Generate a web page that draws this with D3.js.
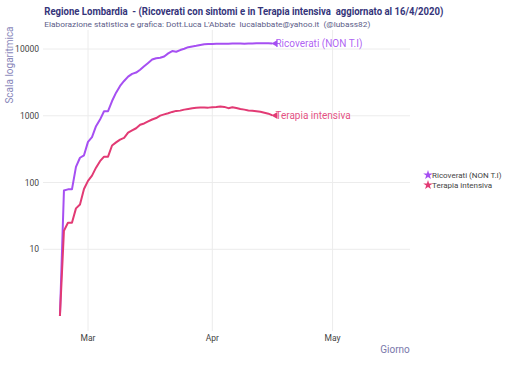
<!DOCTYPE html>
<html><head><meta charset="utf-8">
<script src="https://cdn.jsdelivr.net/npm/d3@7"></script>
<style>body{margin:0;background:#fff}svg{display:block;font-family:Roboto,"Open Sans",sans-serif}text{white-space:pre}</style>
</head><body><svg id="c" width="510" height="368"></svg>
<script>
const dates = ["2020-02-23","2020-02-24","2020-02-25","2020-02-26","2020-02-27","2020-02-28","2020-02-29",
"2020-03-01","2020-03-02","2020-03-03","2020-03-04","2020-03-05","2020-03-06","2020-03-07","2020-03-08","2020-03-09","2020-03-10",
"2020-03-11","2020-03-12","2020-03-13","2020-03-14","2020-03-15","2020-03-16","2020-03-17","2020-03-18","2020-03-19","2020-03-20",
"2020-03-21","2020-03-22","2020-03-23","2020-03-24","2020-03-25","2020-03-26","2020-03-27","2020-03-28","2020-03-29","2020-03-30","2020-03-31",
"2020-04-01","2020-04-02","2020-04-03","2020-04-04","2020-04-05","2020-04-06","2020-04-07","2020-04-08","2020-04-09","2020-04-10",
"2020-04-11","2020-04-12","2020-04-13","2020-04-14","2020-04-15","2020-04-16"];
const ricoverati = [1,76,79,79,172,235,256,
406,478,698,877,1169,1169,1661,2217,2802,3319,
3852,4247,4435,4898,5500,6171,6953,7285,7387,7735,
8600,9300,9100,9640,10100,10650,10930,11150,11500,11800,11880,
11930,12000,12000,11950,11980,12050,12100,12050,12000,12050,
12100,12150,12150,12200,12200,12100];
const terapia = [1,19,25,25,41,47,80,
106,127,167,209,244,244,359,399,440,466,
560,605,650,732,767,823,879,924,1006,1050,
1093,1142,1183,1194,1236,1263,1292,1319,1328,1330,1324,
1342,1351,1381,1357,1300,1343,1305,1263,1236,1202,
1190,1170,1150,1110,1074,1011];
const seriesNames = ["Ricoverati (NON T.I)","Terapia intensiva"];
const seriesColors = ["#a64ff2","#e23a74"];
const yTicks = [10,100,1000,10000];
const xTickDates = ["2020-03-01","2020-04-01","2020-05-01"];
const xTickLabels = ["Mar","Apr","May"];
const title = "Regione Lombardia  - (Ricoverati con sintomi e in Terapia intensiva  aggiornato al 16/4/2020)";
const subtitle = "Elaborazione statistica e grafica: Dott.Luca L'Abbate  lucalabbate@yahoo.it  (@lubass82)";

const svg = d3.select("#c");
const parse = d3.utcParse("%Y-%m-%d");
const L = 43, R = 410, T = 30, B = 331;

const x0 = d3.scaleUtc().domain([parse("2020-03-01"), parse("2020-04-01")]).range([88, 212.3]);
const x = d3.scaleUtc().domain([x0.invert(L), x0.invert(R)]).range([L, R]);
const y = d3.scaleLog().domain([10, 10000]).range([249.3, 49]);

// grid
svg.append("g").selectAll("line").data(yTicks).join("line")
  .attr("x1", L).attr("x2", R).attr("y1", d => y(d)).attr("y2", d => y(d))
  .attr("stroke", "#ececec").attr("stroke-width", 1);
svg.append("g").selectAll("line").data(xTickDates).join("line")
  .attr("x1", d => x(parse(d))).attr("x2", d => x(parse(d))).attr("y1", T).attr("y2", B)
  .attr("stroke", "#ececec").attr("stroke-width", 1);

// axes labels
svg.append("g").selectAll("text").data(yTicks).join("text")
  .attr("x", 39).attr("y", d => y(d)).attr("dy", "0.35em").attr("text-anchor", "end")
  .attr("font-size", 8.5).attr("fill", "#444").text(d => d);
svg.append("g").selectAll("text").data(xTickDates).join("text")
  .attr("x", d => x(parse(d))).attr("y", 341).attr("text-anchor", "middle")
  .attr("font-size", 8.5).attr("fill", "#444").text((d, i) => xTickLabels[i]);

svg.append("text").attr("x", 395).attr("y", 353).attr("text-anchor", "middle")
  .attr("font-size", 10).attr("fill", "#7a78aa").text("Giorno");
svg.append("text").attr("transform", "translate(13,65) rotate(-90)").attr("text-anchor", "middle")
  .attr("font-size", 10).attr("fill", "#8a88bb").text("Scala logaritmica");

svg.append("text").attr("x", 44.3).attr("y", 14.5).attr("font-size", 10.5).attr("font-weight", "bold")
  .attr("fill", "#35357a").attr("textLength", 399).attr("lengthAdjust", "spacingAndGlyphs").text(title);
svg.append("text").attr("x", 44.3).attr("y", 26.5).attr("font-size", 8).attr("fill", "#5c5c88")
  .attr("textLength", 326).attr("lengthAdjust", "spacingAndGlyphs").text(subtitle);

// lines
const seriesData = [ricoverati, terapia].map(vals => vals.map((v, i) => ({d: parse(dates[i]), v})));
const line = d3.line().x(p => x(p.d)).y(p => y(p.v));
const markerPath = "M-1,0L5,-3.5L5,3.5Z";
seriesData.forEach((s, k) => {
  svg.append("path").datum(s).attr("d", line).attr("fill", "none")
    .attr("stroke", seriesColors[k]).attr("stroke-width", 2).attr("stroke-linejoin", "round");
});
seriesData.forEach((s, k) => {
  const last = s[s.length - 1];
  svg.append("path").attr("d", markerPath)
    .attr("transform", `translate(${x(last.d)},${y(last.v)})`).attr("fill", seriesColors[k]);
  svg.append("text").attr("x", x(last.d) + 3).attr("y", y(last.v)).attr("dy", "0.35em")
    .attr("font-size", 10).attr("fill", seriesColors[k]).attr("fill-opacity", 0.9).text(seriesNames[k]);
});

// legend
const star = d3.symbol().type(d3.symbolStar).size(28);
seriesNames.forEach((n, k) => {
  const ly = 175 + k * 10;
  svg.append("path").attr("d", star()).attr("transform", `translate(428,${ly})`).attr("fill", seriesColors[k]);
  svg.append("text").attr("x", 432).attr("y", ly).attr("dy", "0.35em").attr("font-size", 8)
    .attr("fill", "#444").text(n);
});
</script></body></html>
